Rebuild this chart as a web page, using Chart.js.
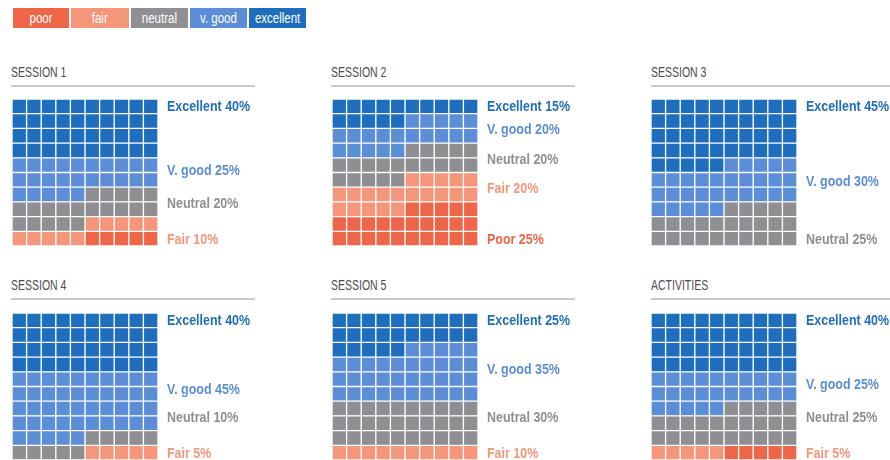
<!DOCTYPE html>
<html lang="en">
<head>
    <meta charset="UTF-8">
    <title>Session ratings</title>
    <script src="https://cdn.jsdelivr.net/npm/chart.js"></script>
    <style>
        body {
            margin: 0;
            width: 890px;
            height: 460px;
            overflow: hidden;
            background: #fff;
            font-family: "Liberation Sans", Arial, sans-serif;
            position: relative;
        }
        #legend {
            position: absolute;
            left: 13px;
            top: 8px;
            display: flex;
        }
        #legend span {
            display: block;
            height: 20px;
            line-height: 20px;
            margin-right: 2px;
            color: #fff;
            font-size: 14px;
            text-align: center;
        }
        #legend span i {
            font-style: normal;
            display: inline-block;
            transform: scaleX(0.82);
        }
        .title {
            position: absolute;
            font-size: 15px;
            color: #4d4d4d;
            transform: scaleX(0.7);
            transform-origin: left center;
            white-space: nowrap;
        }
        .rule {
            position: absolute;
            height: 2px;
            background: #c9c9c9;
        }
        canvas.waffle {
            position: absolute;
        }
    </style>
</head>
<body>

<div id="legend"></div>

<script>
    // category order as filled from the top of each grid
    const categories = ["Excellent", "V. good", "Neutral", "Fair", "Poor"];
    const legendLabels = ["poor", "fair", "neutral", "v. good", "excellent"];
    const panelTitles = ["SESSION 1", "SESSION 2", "SESSION 3", "SESSION 4", "SESSION 5", "ACTIVITIES"];

    // percentages per panel
    const excellent = [40, 15, 45, 40, 25, 40];
    const vgood     = [25, 20, 30, 45, 35, 25];
    const neutral   = [20, 20, 25, 10, 30, 25];
    const fair      = [10, 20,  0,  5, 10,  5];
    const poor      = [ 5, 25,  0,  0,  0,  5];
    // the small poor share in session 1 / activities carries no label
    const poorLabelled = [false, true, false, false, false, false];

    const colors = ["#1f6ebd", "#5b8ed6", "#8e8e93", "#f5957a", "#ef6548"];
    const legendColors = ["#ef6548", "#f5957a", "#8e8e93", "#5b8ed6", "#1f6ebd"];
    const legendWidths = [56, 58, 57, 57, 57];

    const colLeft = [11, 331, 651];
    const gridLeft = [12, 332, 651];
    const rowRule = [85, 298];
    const gridTop = [99, 313];
    const ruleRight = [255, 575, 890];

    // legend
    const legend = document.getElementById("legend");
    legendLabels.forEach((l, i) => {
        const s = document.createElement("span");
        s.innerHTML = "<i>" + l + "</i>";
        s.style.background = legendColors[i];
        s.style.width = legendWidths[i] + "px";
        legend.appendChild(s);
    });

    function labelRows(values, shown) {
        // vertical label position in row units from the top of the grid
        const items = [];
        let cum = 0;
        values.forEach((v, i) => {
            const start = cum / 10, end = (cum + v) / 10;
            cum += v;
            if (v > 0 && shown[i]) items.push({ cat: i, v: v, t: (start + end) / 2 - 0.35 });
        });
        if (!items.length) return items;
        items[0].t = 0.55;
        const last = items.length - 1;
        items[last].t = 9.6;
        for (let k = last - 1; k > 0; k--) {
            const gap = (k === last - 1) ? 2.45 : 1.9;
            items[k].t = Math.min(items[k].t, items[k + 1].t - gap);
        }
        return items;
    }

    const labelPlugin = {
        id: "sideLabels",
        afterDraw(chart) {
            const opts = chart.options.plugins.sideLabels;
            const ctx = chart.ctx;
            const area = chart.chartArea;
            const cell = area.height / 10;
            ctx.save();
            ctx.font = "bold 14px 'Liberation Sans', Arial, sans-serif";
            ctx.textBaseline = "middle";
            ctx.textAlign = "left";
            opts.items.forEach(it => {
                ctx.save();
                ctx.translate(area.right + 9, area.top + it.t * cell);
                ctx.scale(0.89, 1);
                ctx.fillStyle = colors[it.cat];
                ctx.fillText(categories[it.cat] + " " + it.v + "%", 0, 0);
                ctx.restore();
            });
            ctx.restore();
        }
    };

    panelTitles.forEach((title, p) => {
        const col = p % 3, row = Math.floor(p / 3);

        const t = document.createElement("div");
        t.className = "title";
        t.textContent = title;
        t.style.left = colLeft[col] + "px";
        t.style.top = (rowRule[row] - 22) + "px";
        document.body.appendChild(t);

        const r = document.createElement("div");
        r.className = "rule";
        r.style.left = colLeft[col] + "px";
        r.style.top = rowRule[row] + "px";
        r.style.width = (ruleRight[col] - colLeft[col]) + "px";
        document.body.appendChild(r);

        const values = [excellent[p], vgood[p], neutral[p], fair[p], poor[p]];
        const shown = [true, true, true, true, poorLabelled[p]];

        // category of every cell, filled row by row from the top left
        const cells = [];
        values.forEach((v, i) => { for (let k = 0; k < v; k++) cells.push(i); });

        const canvas = document.createElement("canvas");
        canvas.className = "waffle";
        canvas.width = 250;
        canvas.height = 150;
        canvas.style.width = "250px";
        canvas.style.height = "150px";
        canvas.style.left = gridLeft[col] + "px";
        canvas.style.top = gridTop[row] + "px";
        document.body.appendChild(canvas);

        const rows = Array.from({ length: 10 }, (_, i) => "r" + (i + 1));
        const datasets = [];
        for (let c = 0; c < 10; c++) {
            datasets.push({
                data: rows.map(() => 1),
                backgroundColor: ctx => colors[cells[ctx.dataIndex * 10 + c]],
                borderColor: "#fff",
                borderWidth: 1,
                borderSkipped: false,
                barPercentage: 1,
                categoryPercentage: 1
            });
        }

        new Chart(canvas, {
            type: "bar",
            data: { labels: rows, datasets: datasets },
            options: {
                indexAxis: "y",
                responsive: false,
                animation: false,
                layout: { padding: { left: 0, top: 0, right: 104, bottom: 3 } },
                scales: {
                    x: { stacked: true, min: 0, max: 10, display: false },
                    y: { stacked: true, display: false }
                },
                plugins: {
                    legend: { display: false },
                    tooltip: { enabled: false },
                    sideLabels: { items: labelRows(values, shown) }
                }
            },
            plugins: [labelPlugin]
        });
    });
</script>

</body>
</html>
